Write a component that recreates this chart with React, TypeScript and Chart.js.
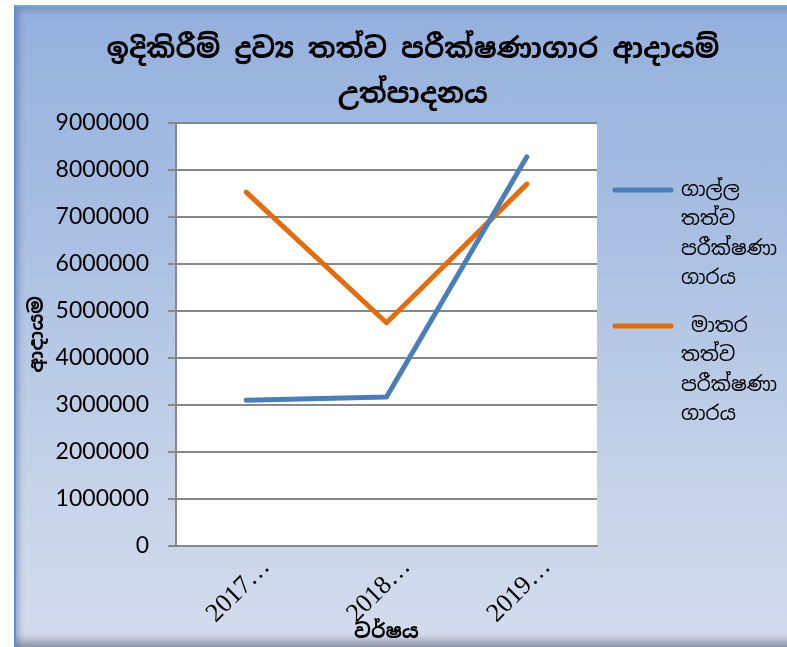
import React, { useEffect, useRef } from "react";
import { Chart, registerables } from "chart.js";

Chart.register(...registerables);

const categories = ["2017…", "2018…", "2019…"];
const galleValues = [3100000, 3170000, 8280000];
const mataraValues = [7530000, 4750000, 7700000];
const yMin = 0;
const yMax = 9000000;
const yStep = 1000000;
const titleLines = ["ඉදිකිරීම් ද්‍රව්‍ය තත්ව පරීක්ෂණාගාර ආදායම්", "උත්පාදනය"];
const galleLegend = ["ගාල්ල", "තත්ව", "පරීක්ෂණා", "ගාරය"];
const mataraLegend = [" මාතර", "තත්ව", "පරීක්ෂණා", "ගාරය"];
const yTitle = "ආදායම";
const xTitle = "වර්ෂය";

const SINHALA = '"Noto Sans Sinhala", "Noto Serif Sinhala", "Iskoola Pota", "Noto Sans", sans-serif';

export default function App() {
  const ref = useRef<HTMLCanvasElement | null>(null);

  useEffect(() => {
    if (!ref.current) return;
    const legendTexts = [galleLegend, mataraLegend];

    const plotBg = {
      id: "plotBg",
      beforeDraw(chart: any) {
        const { ctx, chartArea } = chart;
        ctx.save();
        ctx.fillStyle = "#ffffff";
        ctx.fillRect(chartArea.left, chartArea.top, chartArea.right - chartArea.left, chartArea.bottom - chartArea.top);
        ctx.restore();
      },
    };

    const titlePlugin = {
      id: "customTitle",
      afterDraw(chart: any) {
        const { ctx } = chart;
        ctx.save();
        ctx.font = `bold 28px ${SINHALA}`;
        ctx.fillStyle = "#000";
        ctx.textAlign = "center";
        ctx.textBaseline = "middle";
        titleLines.forEach((t, i) => ctx.fillText(t, 413, 50 + i * 45));
        ctx.restore();
      },
    };

    const legendWidthFix = {
      id: "legendWidthFix",
      beforeLayout(chart: any) {
        const lg = chart.legend;
        if (lg && !lg.__patched) {
          const f = lg.fit;
          lg.fit = function () {
            f.call(this);
            this.width = 190;
          };
          lg.__patched = true;
        }
      },
    };

    const chart = new Chart(ref.current, {
      type: "line",
      data: {
        labels: categories,
        datasets: [
          {
            label: galleLegend.join(" "),
            data: galleValues,
            borderColor: "#4a7ebb",
            backgroundColor: "#4a7ebb",
            borderWidth: 5,
            borderCapStyle: "round",
            borderJoinStyle: "round",
            pointRadius: 0,
            tension: 0,
          },
          {
            label: mataraLegend.join(" "),
            data: mataraValues,
            borderColor: "#e46c0a",
            backgroundColor: "#e46c0a",
            borderWidth: 5,
            borderCapStyle: "round",
            borderJoinStyle: "round",
            pointRadius: 0,
            tension: 0,
          },
        ],
      },
      options: {
        responsive: false,
        animation: false,
        layout: { padding: { left: 14, top: 123, right: 0, bottom: 0 } },
        plugins: {
          title: { display: false },
          tooltip: { enabled: false },
          legend: {
            position: "right",
            align: "start",
            title: { display: true, text: " ", font: { size: 17, lineHeight: 1 }, padding: 11 },
            labels: {
              usePointStyle: true,
              pointStyle: "line",
              pointStyleWidth: 56,
              padding: 18,
              color: "#000",
              font: { family: SINHALA, size: 20, lineHeight: 1.475 },
              generateLabels(c: any) {
                const items = Chart.defaults.plugins.legend.labels.generateLabels(c);
                return items.map((it: any, i: number) => ({ ...it, text: legendTexts[i], lineWidth: 5, lineCap: "round" }));
              },
            },
          },
        },
        scales: {
          x: {
            offset: true,
            grid: { display: false, drawTicks: false },
            border: { display: true, color: "#888888", width: 2 },
            ticks: {
              color: "#000",
              font: { family: '"Liberation Serif", "Times New Roman", serif', size: 26 },
              minRotation: 45,
              maxRotation: 45,
              labelOffset: 20,
              padding: 6,
              autoSkip: false,
            },
            title: {
              display: true,
              text: xTitle,
              color: "#000",
              font: { family: SINHALA, size: 20, weight: "bold", lineHeight: 1.2 },
              padding: { top: 0, bottom: 3 },
            },
            afterFit(scale: any) {
              scale.height = 101;
            },
          },
          y: {
            min: yMin,
            max: yMax,
            grid: { color: "#888888", lineWidth: 2, drawTicks: true, tickLength: 8 },
            border: { display: true, color: "#888888", width: 2 },
            ticks: {
              stepSize: yStep,
              color: "#000",
              padding: 19,
              font: { family: 'Lato, "Noto Sans", sans-serif', size: 23 },
              callback: (v: any) => String(v),
            },
            title: {
              display: true,
              text: yTitle,
              color: "#000",
              font: { family: SINHALA, size: 20, weight: "bold", lineHeight: 1.2 },
              padding: { top: 11, bottom: 0 },
            },
            afterFit(scale: any) {
              scale.width = 162;
            },
          },
        },
      },
      plugins: [plotBg, titlePlugin, legendWidthFix],
    } as any);

    return () => chart.destroy();
  }, []);

  return (
    <div style={{ position: "fixed", left: 0, top: 0, width: 787, height: 647, background: "#fff", overflow: "hidden" }}>
      <div
        style={{
          position: "absolute",
          left: 14,
          top: 5,
          width: 790,
          height: 642,
          boxSizing: "border-box",
          borderLeft: "2px solid #5b8fd8",
          borderTop: "2px solid #7aa4e0",
          background: "linear-gradient(to bottom, #93b0dd 0%, #a9bfe2 35%, #c3d1e8 70%, #d4dded 100%)",
          boxShadow: "inset 6px 6px 6px -3px rgba(60,80,130,0.35), inset 0 -12px 10px -6px rgba(90,95,115,0.6)",
        }}
      />
      <canvas ref={ref} width={787} height={647} style={{ position: "absolute", left: 0, top: 0, width: 787, height: 647 }} />
    </div>
  );
}
